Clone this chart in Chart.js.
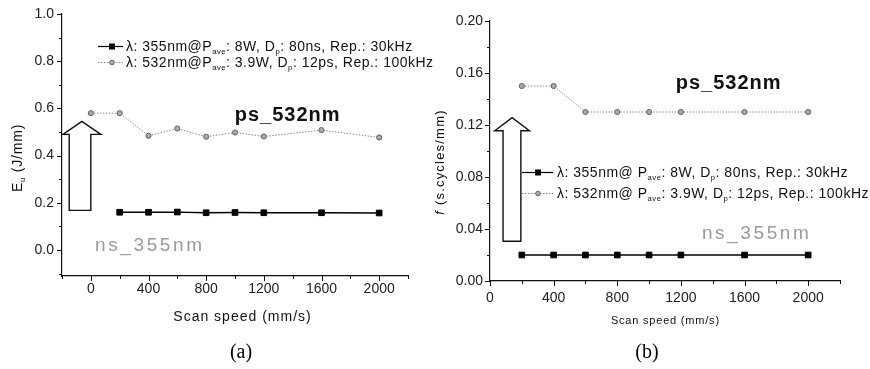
<!DOCTYPE html>
<html><head><meta charset="utf-8">
<script src="https://cdn.jsdelivr.net/npm/chart.js@4.4.1/dist/chart.umd.min.js"></script>
<style>
html,body{margin:0;padding:0;background:#fff;}
body{width:870px;height:369px;overflow:hidden;position:relative;}
#ca{position:absolute;left:0;top:0;}
#cb{position:absolute;left:425px;top:0;}
</style></head>
<body>
<canvas id="ca" width="450" height="369"></canvas>
<canvas id="cb" width="445" height="369"></canvas>
<script>
// ---------- data ----------
const speedA_ns = [200, 400, 600, 800, 1000, 1200, 1600, 2000];
const euA_ns    = [0.160, 0.160, 0.161, 0.158, 0.159, 0.158, 0.158, 0.157];
const speedA_ps = [0, 200, 400, 600, 800, 1000, 1200, 1600, 2000];
const euA_ps    = [0.580, 0.580, 0.484, 0.515, 0.480, 0.498, 0.481, 0.508, 0.477];

const speedB    = [200, 400, 600, 800, 1000, 1200, 1600, 2000];
const fB_ns     = [0.020, 0.020, 0.020, 0.020, 0.020, 0.020, 0.020, 0.020];
const fB_ps     = [0.150, 0.150, 0.130, 0.130, 0.130, 0.130, 0.130, 0.130];

const xTickValues  = [0, 400, 800, 1200, 1600, 2000];
const yTickValuesA = [0.0, 0.2, 0.4, 0.6, 0.8, 1.0];
const yTickValuesB = [0.00, 0.04, 0.08, 0.12, 0.16, 0.20];

const legendNsA = [["λ: 355nm@P",""],["ave","sub"],[": 8W, D",""],["p","sub"],[": 80ns, Rep.: 30kHz",""]];
const legendPsA = [["λ: 532nm@P",""],["ave","sub"],[": 3.9W, D",""],["p","sub"],[": 12ps, Rep.: 100kHz",""]];
const legendNsB = [["λ: 355nm@ P",""],["ave","sub"],[": 8W, D",""],["p","sub"],[": 80ns, Rep.: 30kHz",""]];
const legendPsB = [["λ: 532nm@ P",""],["ave","sub"],[": 3.9W, D",""],["p","sub"],[": 12ps, Rep.: 100kHz",""]];

const labelPs = "ps_532nm";
const labelNs = "ns_355nm";
const xTitle = "Scan speed (mm/s)";
const yTitleA = [["E",""],["u","sub"],[" (J/mm)",""]];
const yTitleB = [["f","italic"],[" (s.cycles/mm)",""]];

// ---------- styling helpers ----------
const FONT = "'Liberation Sans', Arial, sans-serif";

function rich(ctx, segs, x, y, size, spacing) {
  ctx.letterSpacing = (spacing || 0) + "px";
  let total = 0;
  const parts = segs.map(([t, k]) => {
    const s = k === "sub" ? size * 0.55 : size;
    const f = (k === "italic" ? "italic " : "") + s + "px " + FONT;
    ctx.font = f;
    const w = ctx.measureText(t).width;
    total += w;
    return { t, k, f, w };
  });
  return { parts, total, draw(x0) {
    let cx = x0;
    for (const p of parts) {
      ctx.font = p.f;
      ctx.fillText(p.t, cx, y + (p.k === "sub" ? size * 0.38 : 0));
      cx += p.w;
    }
  }};
}

function spaced(ctx, text, cx, cy, font, spacing, color) {
  ctx.save();
  ctx.font = font;
  ctx.letterSpacing = spacing + "px";
  ctx.fillStyle = color;
  ctx.textBaseline = "middle";
  const w = ctx.measureText(text).width - spacing;
  ctx.fillText(text, cx - w / 2, cy);
  ctx.restore();
}

function decoPlugin(cfg) {
  return {
    id: "deco",
    beforeDatasetsDraw(chart) {
      const ctx = chart.ctx, xs = chart.scales.x, ys = chart.scales.y;
      const X = v => xs.getPixelForValue(v), Y = v => ys.getPixelForValue(v);
      const a = cfg.arrow;
      ctx.save();
      ctx.strokeStyle = "#111"; ctx.lineWidth = 1.4; ctx.lineJoin = "miter";
      ctx.beginPath();
      ctx.moveTo(X(a.shaft[0]), Y(a.bottom));
      ctx.lineTo(X(a.shaft[0]), Y(a.base));
      ctx.lineTo(X(a.head[0]), Y(a.base));
      ctx.lineTo(X(a.tip), Y(a.top));
      ctx.lineTo(X(a.head[1]), Y(a.base));
      ctx.lineTo(X(a.shaft[1]), Y(a.base));
      ctx.lineTo(X(a.shaft[1]), Y(a.bottom));
      ctx.closePath();
      ctx.fillStyle = "#fff"; ctx.fill(); ctx.stroke();
      ctx.restore();
    },
    afterDraw(chart) {
      const ctx = chart.ctx, xs = chart.scales.x, ys = chart.scales.y;
      const X = v => xs.getPixelForValue(v), Y = v => ys.getPixelForValue(v);
      const ca = chart.chartArea;
      ctx.save();
      // own tick marks (major + minor), outward
      ctx.strokeStyle = "#111"; ctx.lineWidth = 1;
      ctx.beginPath();
      for (let i = 0; ; i++) {
        const v = xs.min + i * cfg.xMinor;
        if (v > xs.max + 1e-9) break;
        const px = Math.round(X(v)) + 0.5;
        const major = Math.abs(v % cfg.xMajor) < 1e-6;
        ctx.moveTo(px, ca.bottom); ctx.lineTo(px, ca.bottom + (major ? 5 : 3));
      }
      for (let i = 0; ; i++) {
        const v = cfg.yMinorStart + i * cfg.yMinor;
        if (v > ys.max + 1e-9) break;
        if (v < ys.min - 1e-9) continue;
        const py = Math.round(Y(v)) + 0.5;
        const k = Math.round(v / cfg.yMinor);
        const major = k % 2 === 0;
        ctx.moveTo(ca.left, py); ctx.lineTo(ca.left - (major ? 5 : 3), py);
      }
      ctx.stroke();

      // legend
      ctx.textBaseline = "middle";
      const L = cfg.legend;
      L.rows.forEach((row, i) => {
        const y = L.y[i];
        ctx.save();
        if (row.dash) ctx.setLineDash(row.dash);
        ctx.strokeStyle = row.line; ctx.lineWidth = row.lw;
        ctx.beginPath(); ctx.moveTo(L.x0, y + 0.5); ctx.lineTo(L.x1, y + 0.5); ctx.stroke();
        ctx.restore();
        ctx.save();
        if (row.marker === "rect") {
          ctx.fillStyle = "#000"; ctx.fillRect(L.xm - 3, y - 2.5, 6, 6);
        } else {
          ctx.fillStyle = "#aaa"; ctx.strokeStyle = "#666"; ctx.lineWidth = 1;
          ctx.beginPath(); ctx.arc(L.xm, y + 0.5, 2.3, 0, Math.PI * 2); ctx.fill(); ctx.stroke();
        }
        ctx.restore();
        ctx.fillStyle = "#111";
        const r = rich(ctx, row.text, L.xt, y + 1, L.size, L.spacing);
        r.draw(L.xt);
      });
      ctx.letterSpacing = "0px";

      // annotations
      spaced(ctx, labelPs, X(cfg.ps[0]), Y(cfg.ps[1]), "bold 20px " + FONT, 1, "#111");
      spaced(ctx, labelNs, X(cfg.ns[0]), Y(cfg.ns[1]), "19px " + FONT, 2.6, "#9a9a9a");

      // x title
      spaced(ctx, xTitle, (ca.left + ca.right) / 2 + cfg.xTitle.dx, cfg.xTitle.y, cfg.xTitle.font, cfg.xTitle.spacing, "#111");

      // y title (rotated)
      ctx.save();
      ctx.translate(cfg.yTitle.x, cfg.yTitle.y);
      ctx.rotate(-Math.PI / 2);
      ctx.fillStyle = "#111"; ctx.textBaseline = "middle";
      const rt = rich(ctx, cfg.yTitle.segs, 0, 0, cfg.yTitle.size, cfg.yTitle.spacing);
      rt.draw(-rt.total / 2);
      ctx.restore();
      ctx.letterSpacing = "0px";

      // caption
      ctx.font = "20px 'Liberation Serif', 'Times New Roman', serif";
      ctx.fillStyle = "#000"; ctx.textAlign = "center"; ctx.textBaseline = "middle";
      ctx.fillText(cfg.caption.text, cfg.caption.x, cfg.caption.y);
      ctx.restore();
    }
  };
}

function makeChart(id, opts) {
  const nsPts = opts.nsX.map((x, i) => ({ x, y: opts.nsY[i] }));
  const psPts = opts.psX.map((x, i) => ({ x, y: opts.psY[i] }));
  return new Chart(document.getElementById(id), {
    type: "line",
    data: {
      datasets: [
        { data: psPts, borderColor: "#8a8a8a", borderWidth: 1, borderDash: [1.5, 1.5],
          pointStyle: "circle", pointRadius: 2.6, pointBackgroundColor: "#a8a8a8",
          pointBorderColor: "#666", pointBorderWidth: 1, tension: 0 },
        { data: nsPts, borderColor: "#000", borderWidth: 1.3,
          pointStyle: "rect", pointRadius: 4, pointBackgroundColor: "#000",
          pointBorderColor: "#000", pointBorderWidth: 1, tension: 0 }
      ]
    },
    options: {
      responsive: false, animation: false, devicePixelRatio: 1,
      layout: { padding: opts.padding },
      plugins: { legend: { display: false }, tooltip: { enabled: false } },
      scales: {
        x: {
          type: "linear", min: opts.xMin, max: 2200,
          afterBuildTicks: s => { s.ticks = xTickValues.map(v => ({ value: v })); },
          afterFit: s => { s.height = opts.xHeight; },
          ticks: { autoSkip: false, maxRotation: 0, padding: opts.xPad, color: "#222",
                   font: { family: FONT, size: 14 }, callback: v => String(v) },
          grid: { drawOnChartArea: false, drawTicks: true, tickLength: 5, tickColor: "rgba(0,0,0,0)" },
          border: { display: true, color: "#111", width: 1.2 }
        },
        y: {
          min: opts.yMin, max: opts.yMax,
          afterBuildTicks: s => { s.ticks = opts.yTicks.map(v => ({ value: v })); },
          afterFit: s => { s.width = opts.yWidth; },
          ticks: { autoSkip: false, padding: opts.yPad, color: "#222",
                   font: { family: FONT, size: 14 }, callback: v => v.toFixed(opts.dec) },
          grid: { drawOnChartArea: false, drawTicks: true, tickLength: 5, tickColor: "rgba(0,0,0,0)" },
          border: { display: true, color: "#111", width: 1.2 }
        }
      }
    },
    plugins: [decoPlugin(opts.deco)]
  });
}

makeChart("ca", {
  nsX: speedA_ns, nsY: euA_ns, psX: speedA_ps, psY: euA_ps,
  xMin: -200, yMin: -0.11, yMax: 1.0, yTicks: yTickValuesA, dec: 1,
  padding: { top: 14, right: 42, bottom: 0, left: 0 },
  xHeight: 93, yWidth: 62, xPad: 0, yPad: 3,
  deco: {
    xMinor: 200, xMajor: 400, yMinor: 0.1, yMinorStart: -0.1,
    arrow: { shaft: [-150, 0], head: [-193, 69], tip: -62, bottom: 0.168, base: 0.49, top: 0.545 },
    legend: { x0: 98, x1: 123, xm: 112, xt: 126, y: [46, 62], size: 14, spacing: 0.5,
      rows: [
        { text: legendNsA, line: "#000", lw: 1.2, marker: "rect" },
        { text: legendPsA, line: "#888", lw: 1, dash: [1.5, 1.5], marker: "circle" }
      ] },
    ps: [1362, 0.568], ns: [400, 0.02],
    xTitle: { y: 317, dx: 7, font: "14px " + FONT, spacing: 1 },
    yTitle: { x: 18, y: 158, segs: yTitleA, size: 14, spacing: 0.8 },
    caption: { text: "(a)", x: 241, y: 353 }
  }
});

makeChart("cb", {
  nsX: speedB, nsY: fB_ns, psX: speedB, psY: fB_ps,
  xMin: 0, yMin: 0, yMax: 0.2, yTicks: yTickValuesB, dec: 2,
  padding: { top: 21, right: 30, bottom: 0, left: 0 },
  xHeight: 88, yWidth: 65, xPad: 4, yPad: 2,
  deco: {
    xMinor: 200, xMajor: 400, yMinor: 0.02, yMinorStart: 0,
    arrow: { shaft: [82, 194], head: [30, 248], tip: 139, bottom: 0.0306, base: 0.1156, top: 0.1257 },
    legend: { x0: 97, x1: 128, xm: 113, xt: 132, y: [172, 193], size: 14, spacing: 0.5,
      rows: [
        { text: legendNsB, line: "#000", lw: 1.2, marker: "rect" },
        { text: legendPsB, line: "#888", lw: 1, dash: [1.5, 1.5], marker: "circle" }
      ] },
    ps: [1497, 0.152], ns: [1668, 0.0366],
    xTitle: { y: 321, dx: 0, font: "11px " + FONT, spacing: 0.8 },
    yTitle: { x: 15, y: 162, segs: yTitleB, size: 13, spacing: 1.2 },
    caption: { text: "(b)", x: 222, y: 353 }
  }
});
</script>
</body></html>
